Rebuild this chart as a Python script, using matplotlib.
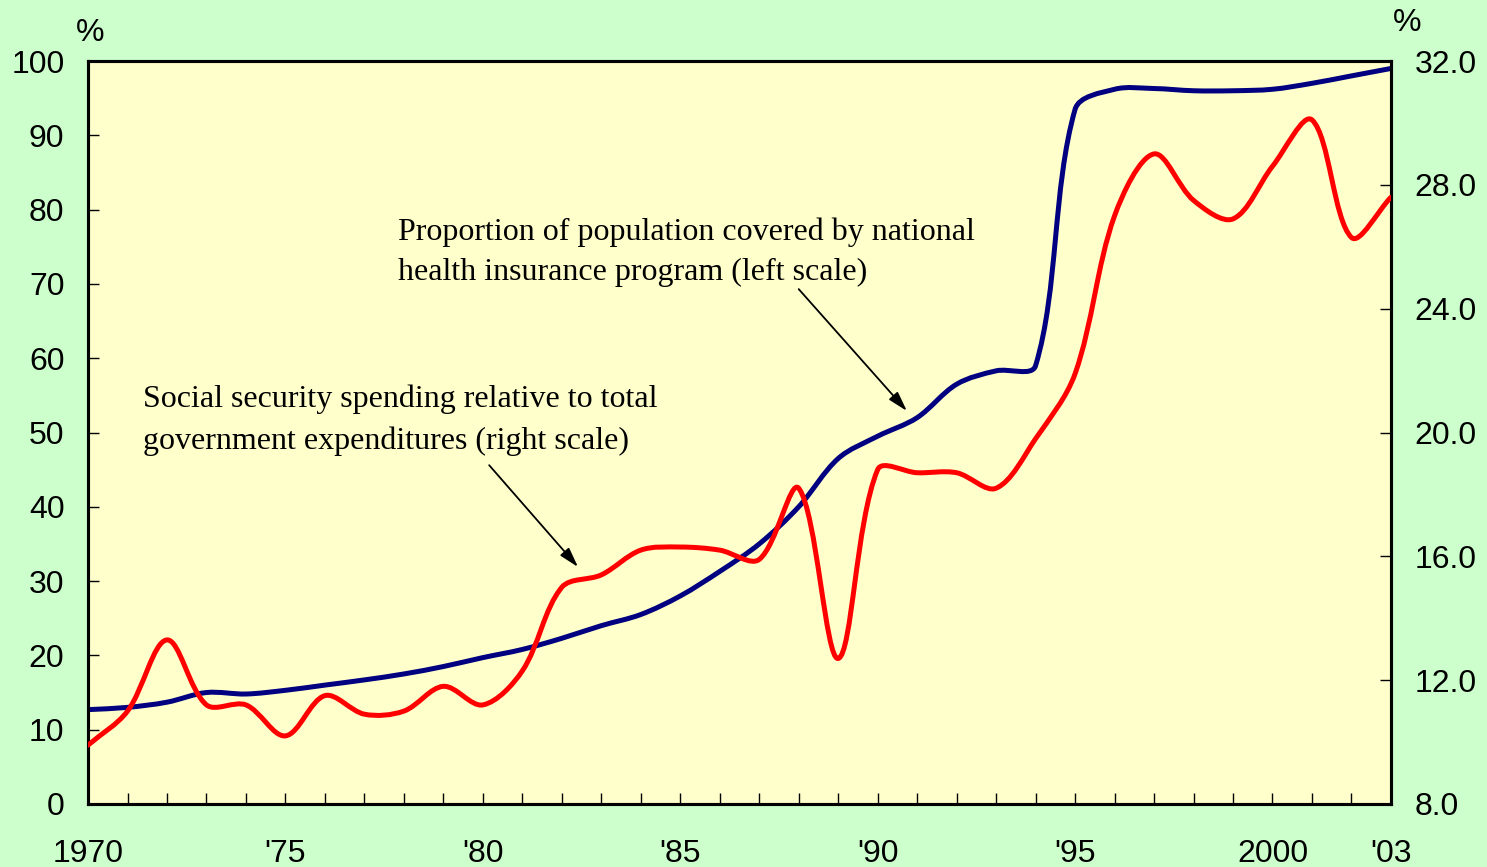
import numpy as np
import matplotlib
matplotlib.use("Agg")
import matplotlib.pyplot as plt
from matplotlib.path import Path
from matplotlib.patches import PathPatch

# ---- data ----
years = list(range(1970, 2004))

# proportion of population covered by national health insurance (left scale, %)
coverage = [12.7, 13.0, 13.7, 15.0, 14.8, 15.3, 16.0, 16.7, 17.5, 18.5,
            19.7, 20.8, 22.3, 24.0, 25.5, 28.0, 31.3, 35.0, 40.0, 46.5,
            49.5, 52.0, 56.5, 58.3, 59.0, 93.5, 96.2, 96.3, 96.0, 96.0,
            96.2, 97.0, 98.0, 99.0]

# social security spending relative to total govt expenditures (right scale, %)
social = [9.9, 11.0, 13.3, 11.2, 11.2, 10.2, 11.5, 10.9, 11.0, 11.8,
          11.2, 12.3, 15.0, 15.4, 16.2, 16.3, 16.2, 15.9, 18.2, 12.7,
          18.8, 18.7, 18.7, 18.2, 19.8, 21.9, 27.0, 29.0, 27.5, 26.9,
          28.6, 30.1, 26.3, 27.6]

major_years = [1970, 1975, 1980, 1985, 1990, 1995, 2000, 2003]
major_labels = ["1970", "'75", "'80", "'85", "'90", "'95", "2000", "'03"]
left_ticks = list(range(0, 101, 10))
right_ticks = [8, 12, 16, 20, 24, 28, 32]

BG = "#ccffcc"
PLOT_BG = "#ffffcc"
BLUE = "#000080"
RED = "#ff0000"


def smooth_path(axis, x, y):
    # spreadsheet-like smoothed line: bezier segments, tangents weighted
    # by the on-screen chord lengths of the neighbouring segments
    x = np.asarray(x, float)
    y = np.asarray(y, float)
    pts = np.column_stack([x, y])
    scr = axis.transData.transform(pts)
    n = len(x)
    chord = np.hypot(*np.diff(scr, axis=0).T)
    cout = [None] * n
    cin = [None] * n
    for i in range(n):
        if i == 0:
            cout[i] = pts[0] + (pts[1] - pts[0]) / 3
            continue
        if i == n - 1:
            cin[i] = pts[i] - (pts[i] - pts[i - 1]) / 3
            continue
        t = pts[i + 1] - pts[i - 1]
        lp, ln = chord[i - 1], chord[i]
        cout[i] = pts[i] + t * ln / (lp + ln) / 3
        cin[i] = pts[i] - t * lp / (lp + ln) / 3
    verts = [tuple(pts[0])]
    codes = [Path.MOVETO]
    for i in range(n - 1):
        verts += [tuple(cout[i]), tuple(cin[i + 1]), tuple(pts[i + 1])]
        codes += [Path.CURVE4] * 3
    return Path(verts, codes)


plt.rcParams['font.family'] = ['Liberation Sans', 'DejaVu Sans']

fig = plt.figure(figsize=(14.87, 8.67), dpi=100, facecolor=BG)
ax = fig.add_axes([0.0592, 0.0727, 0.8762, 0.8569])
ax.set_facecolor(PLOT_BG)
ax2 = ax.twinx()

ax.set_xlim(1970, 2003)
ax.set_ylim(0, 100)
ax2.set_ylim(8, 32)

# lines (red on the twin axes, drawn over the blue)
ax.add_patch(PathPatch(smooth_path(ax, years, coverage), facecolor="none",
                       edgecolor=BLUE, lw=3.6, zorder=3,
                       capstyle="round", joinstyle="round"))
ax2.add_patch(PathPatch(smooth_path(ax2, years, social), facecolor="none",
                        edgecolor=RED, lw=3.6, zorder=3,
                        capstyle="round", joinstyle="round"))

# ticks
ax.set_xticks(years, minor=True)
ax.set_xticks(major_years)
ax.set_xticklabels(major_labels, fontsize=23)
ax.set_yticks(left_ticks)
ax.set_yticklabels([str(v) for v in left_ticks], fontsize=23)
ax2.set_yticks(right_ticks)
ax2.set_yticklabels(["%.1f" % v for v in right_ticks], fontsize=23)

ax.tick_params(axis="x", which="both", direction="in", length=8, width=1,
               pad=25, top=False)
ax.tick_params(axis="y", direction="in", length=8, width=1, pad=17)
ax2.tick_params(axis="y", direction="in", length=8, width=1, pad=17)

for a in (ax, ax2):
    for s in a.spines.values():
        s.set_linewidth(2.2)
        s.set_color("black")

# unit labels
fig.text(90 / 1487, 1 - 33 / 867, "%", fontsize=23, ha="center", va="center")
fig.text(1407 / 1487, 1 - 23 / 867, "%", fontsize=23, ha="center", va="center")

# annotations
serif = ['Liberation Serif', 'DejaVu Serif']
ax.text(1977.85, 79.0, "Proportion of population covered by national\n"
        "health insurance program (left scale)",
        fontsize=23, family=serif, ha="left", va="top", linespacing=1.52)
ax.text(1971.39, 56.4, "Social security spending relative to total\n"
        "government expenditures (right scale)",
        fontsize=23, family=serif, ha="left", va="top", linespacing=1.52)

arrow = dict(arrowstyle="-|>,head_length=1.2,head_width=0.35", color="black",
             lw=1.3, shrinkA=0, shrinkB=0)
ax.annotate("", xy=(1990.74, 52.9), xytext=(1988.0, 69.3), arrowprops=arrow)
ax.annotate("", xy=(1982.41, 31.9), xytext=(1980.16, 45.6), arrowprops=arrow)

fig.savefig("out.png", dpi=100, facecolor=BG)
